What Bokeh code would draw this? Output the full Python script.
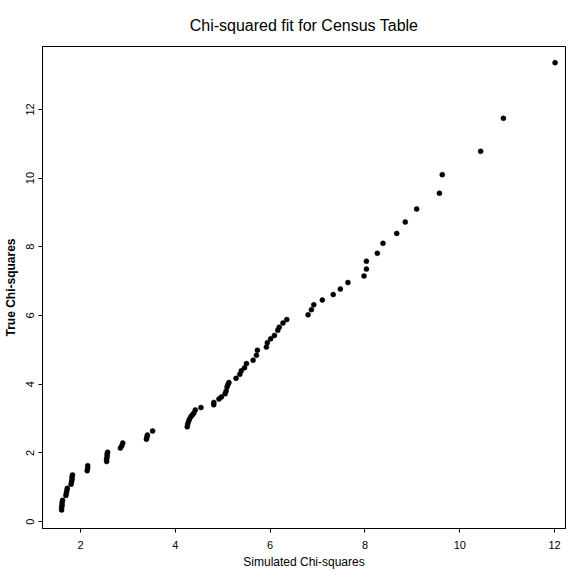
from bokeh.plotting import figure
from bokeh.models import Range1d, FixedTicker, ColumnDataSource
from bokeh.embed import file_html
from bokeh.resources import INLINE

# Simulated chi-squares (x) vs true chi-squares (y)
simulated = [
    1.60, 1.60, 1.61, 1.61, 1.62,
    1.69, 1.70, 1.71, 1.72,
    1.80, 1.81, 1.82, 1.82, 1.83,
    2.14, 2.15, 2.15,
    2.55, 2.55, 2.56, 2.56, 2.57,
    2.84, 2.87, 2.89,
    3.39, 3.40, 3.41, 3.52,
    4.25, 4.26, 4.28, 4.30, 4.33, 4.36, 4.39, 4.42, 4.54,
    4.81, 4.81, 4.92, 4.97, 5.05, 5.07, 5.09, 5.11, 5.13,
    5.28, 5.36, 5.39, 5.46, 5.50, 5.64, 5.71, 5.73,
    5.92, 5.94, 6.01, 6.09, 6.16, 6.19, 6.27, 6.35,
    6.80, 6.87, 6.92, 7.10, 7.33, 7.48, 7.64,
    7.98, 8.03, 8.03, 8.26, 8.38, 8.67, 8.85, 9.09,
    9.57, 9.63, 10.44, 10.92, 12.01,
]
true_chisq = [
    0.34, 0.41, 0.48, 0.55, 0.62,
    0.76, 0.83, 0.90, 0.97,
    1.09, 1.16, 1.23, 1.30, 1.36,
    1.48, 1.56, 1.63,
    1.75, 1.82, 1.89, 1.96, 2.02,
    2.14, 2.21, 2.29,
    2.40, 2.46, 2.52, 2.64,
    2.76, 2.84, 2.92, 2.99, 3.06, 3.11, 3.16, 3.25, 3.32,
    3.40, 3.47, 3.57, 3.63, 3.72, 3.80, 3.92, 3.99, 4.05,
    4.17, 4.29, 4.39, 4.48, 4.60, 4.70, 4.84, 4.99,
    5.08, 5.21, 5.32, 5.42, 5.57, 5.66, 5.78, 5.88,
    6.02, 6.17, 6.31, 6.45, 6.61, 6.77, 6.96,
    7.15, 7.35, 7.58, 7.81, 8.10, 8.39, 8.72, 9.10,
    9.56, 10.10, 10.78, 11.74, 13.36,
]
x_ticks = [2, 4, 6, 8, 10, 12]
y_ticks = [0, 2, 4, 6, 8, 10, 12]
title_text = "Chi-squared fit for Census Table"

FONT = "Liberation Sans"
X0, X1 = 1.197, 12.23
Y0, Y1 = -0.2, 13.83

p = figure(
    width=566, height=571,
    output_backend="svg", toolbar_location=None,
    x_range=Range1d(X0, X1), y_range=Range1d(Y0, Y1),
    min_border_left=42, min_border_right=1, min_border_top=46, min_border_bottom=40,
    title=title_text,
)
p.title.align = "center"
p.title.text_font = FONT
p.title.text_font_size = "16px"
p.title.text_font_style = "normal"
p.title.text_color = "black"
p.title.standoff = 25

p.outline_line_color = "black"
p.outline_line_width = 1
p.xgrid.visible = False
p.ygrid.visible = False

for ax in (p.xaxis[0], p.yaxis[0]):
    ax.axis_line_color = "black"
    ax.major_tick_line_color = "black"
    ax.major_tick_out = 4
    ax.major_tick_in = 0
    ax.minor_tick_line_color = None
    ax.major_label_text_font = FONT
    ax.major_label_text_font_size = "11px"
    ax.major_label_text_color = "black"
    ax.axis_label_text_font = FONT
    ax.axis_label_text_font_size = "12px"
    ax.axis_label_text_color = "black"

p.xaxis[0].ticker = FixedTicker(ticks=x_ticks)
p.yaxis[0].ticker = FixedTicker(ticks=y_ticks)
p.xaxis[0].axis_label = "Simulated Chi-squares"
p.yaxis[0].axis_label = "True Chi-squares"
p.xaxis[0].axis_label_text_font_style = "normal"
p.yaxis[0].axis_label_text_font_style = "bold"
p.yaxis[0].major_label_orientation = "vertical"
p.xaxis[0].major_label_standoff = 8
p.yaxis[0].major_label_standoff = 4
p.xaxis[0].axis_label_standoff = 3
p.yaxis[0].axis_label_standoff = 6

src = ColumnDataSource(data=dict(x=simulated, y=true_chisq))
p.scatter("x", "y", source=src, size=5, marker="circle",
          fill_color="black", line_color="black", line_width=0.5)

open("out.html", "w").write(file_html(p, INLINE))
